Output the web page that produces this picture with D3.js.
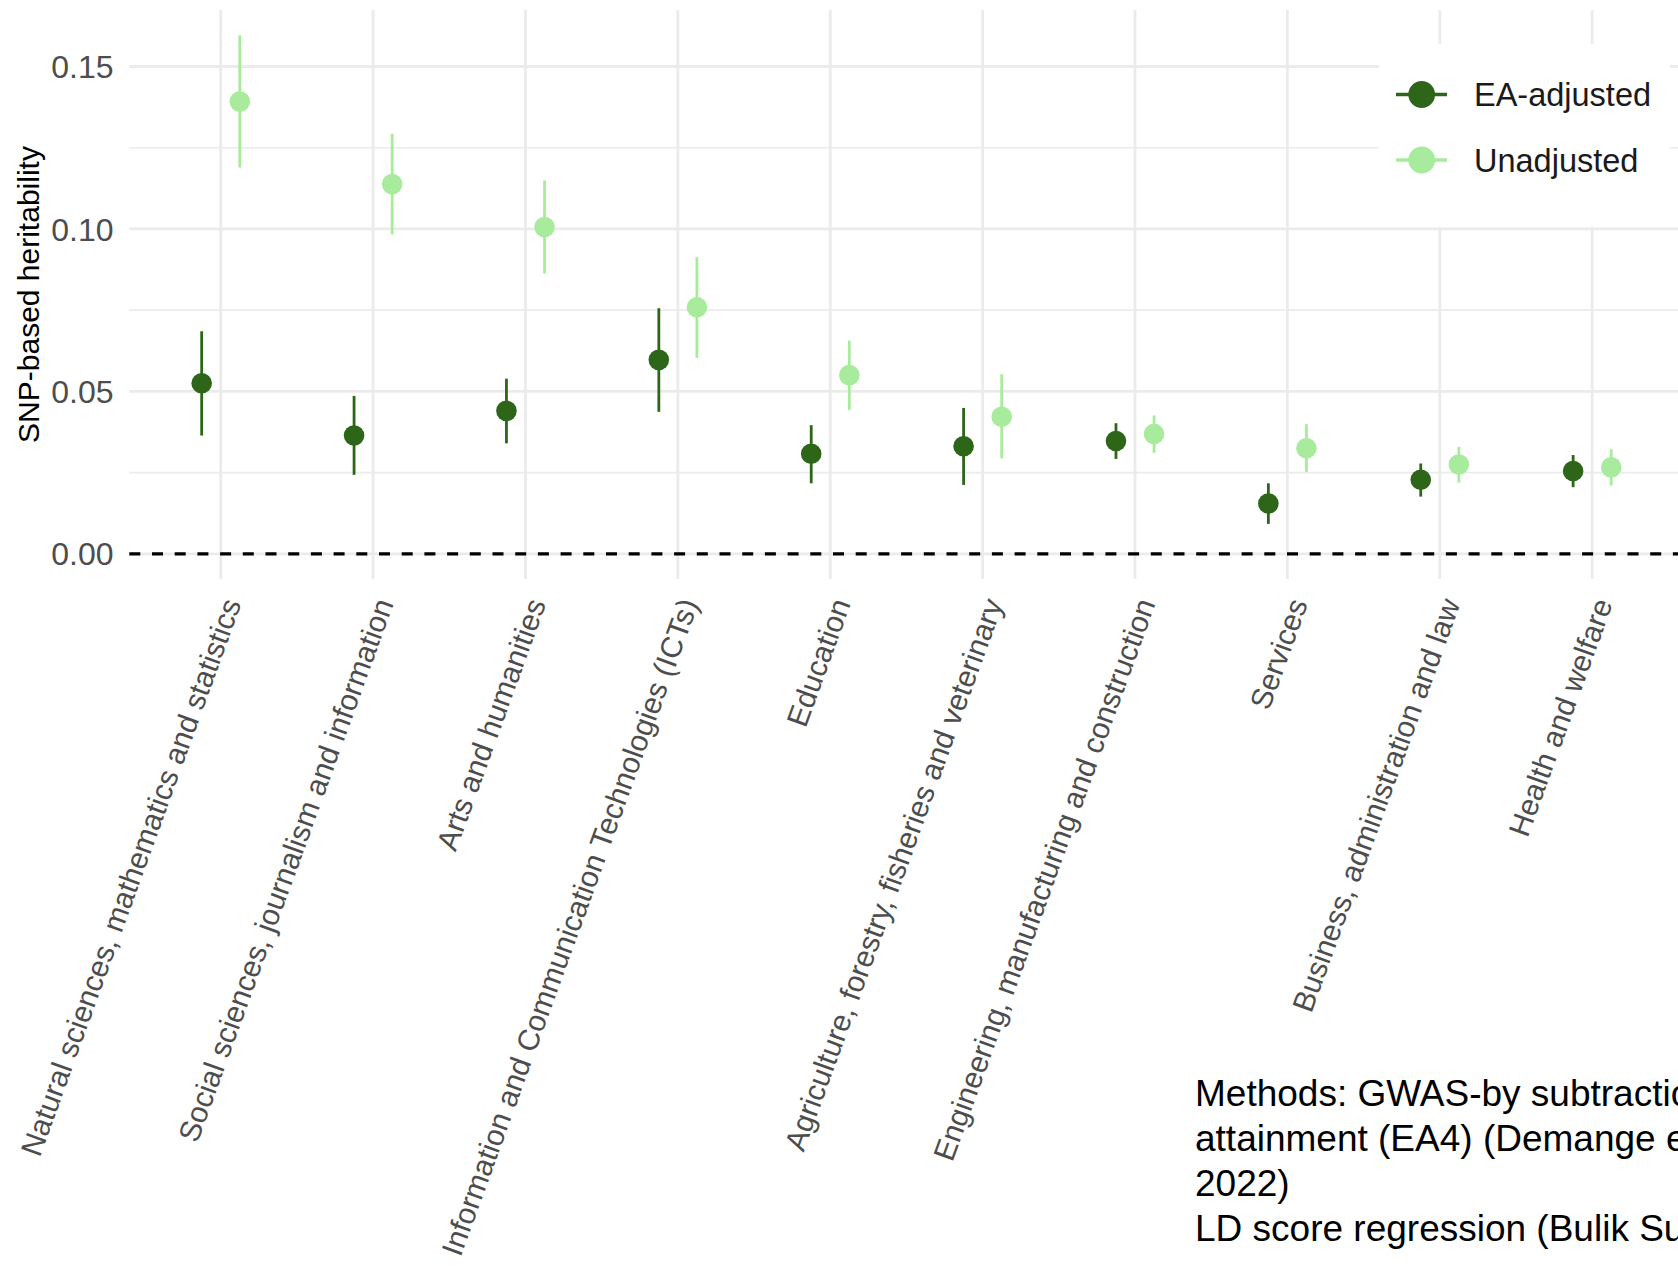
<!DOCTYPE html>
<html>
<head>
<meta charset="utf-8">
<script src="https://cdn.jsdelivr.net/npm/d3@7"></script>
<style>
  html, body { margin: 0; padding: 0; background: #ffffff; overflow: hidden; }
  svg { display: block; font-family: "Liberation Sans", Arial, Helvetica, sans-serif; }
</style>
</head>
<body>
<svg id="chart" width="1678" height="1266"></svg>
<script>
// Fields of study
const categories = [
  "Natural sciences, mathematics and statistics",
  "Social sciences, journalism and information",
  "Arts and humanities",
  "Information and Communication Technologies (ICTs)",
  "Education",
  "Agriculture, forestry, fisheries and veterinary",
  "Engineering, manufacturing and construction",
  "Services",
  "Business, administration and law",
  "Health and welfare"
];

// SNP-based heritability after adjusting for educational attainment
const eaAdjusted      = [0.0525, 0.0364, 0.0440, 0.0597, 0.0308, 0.0331, 0.0347, 0.0155, 0.0228, 0.0255];
const eaAdjustedLower = [0.0364, 0.0243, 0.0340, 0.0437, 0.0217, 0.0212, 0.0292, 0.0092, 0.0176, 0.0205];
const eaAdjustedUpper = [0.0685, 0.0486, 0.0539, 0.0756, 0.0396, 0.0449, 0.0402, 0.0217, 0.0278, 0.0304];

// SNP-based heritability without adjustment
const unadjusted      = [0.1392, 0.1138, 0.1006, 0.0759, 0.0550, 0.0422, 0.0369, 0.0325, 0.0275, 0.0266];
const unadjustedLower = [0.1189, 0.0983, 0.0863, 0.0603, 0.0443, 0.0294, 0.0311, 0.0252, 0.0219, 0.0210];
const unadjustedUpper = [0.1596, 0.1293, 0.1149, 0.0913, 0.0656, 0.0553, 0.0426, 0.0399, 0.0329, 0.0322];

const seriesNames = ["EA-adjusted", "Unadjusted"];
const seriesColors = ["#2d6619", "#a8eb9c"];

const yTicks = [0, 0.05, 0.10, 0.15];
const yMinorTicks = [0.025, 0.075, 0.125];

const noteLines = [
  "Methods: GWAS-by subtraction of educational",
  "attainment (EA4) (Demange et al. 2021; Okbay et al.",
  "2022)",
  "LD score regression (Bulik Sullivan et al. 2015)"
];

// ---- layout ----
const panel = { left: 129.3, right: 1683.6, top: 10, bottom: 579 };
const svg = d3.select("#chart");

const x = d3.scalePoint()
  .domain(categories)
  .range([panel.left, panel.right])
  .padding(0.6);

const yLo = -0.00776, yHi = 0.1674;
const y = d3.scaleLinear().domain([yLo, yHi]).range([panel.bottom, panel.top]);

const dodge = 0.125 * x.step();

const series = [
  { name: seriesNames[0], color: seriesColors[0], off: -dodge, est: eaAdjusted, lo: eaAdjustedLower, hi: eaAdjustedUpper },
  { name: seriesNames[1], color: seriesColors[1], off: dodge,  est: unadjusted, lo: unadjustedLower, hi: unadjustedUpper }
];

// ---- grid ----
const grid = svg.append("g");
grid.selectAll("line.minor").data(yMinorTicks).join("line")
  .attr("x1", panel.left).attr("x2", 1678)
  .attr("y1", d => y(d)).attr("y2", d => y(d))
  .attr("stroke", "#ebebeb").attr("stroke-width", 1.6);
grid.selectAll("line.major").data(yTicks).join("line")
  .attr("x1", panel.left).attr("x2", 1678)
  .attr("y1", d => y(d)).attr("y2", d => y(d))
  .attr("stroke", "#ebebeb").attr("stroke-width", 2.8);
grid.selectAll("line.vert").data(categories).join("line")
  .attr("x1", d => x(d)).attr("x2", d => x(d))
  .attr("y1", panel.top).attr("y2", panel.bottom)
  .attr("stroke", "#ebebeb").attr("stroke-width", 2.8);

// ---- y axis ----
const yAxis = d3.axisLeft(y).tickValues(yTicks).tickFormat(d3.format(".2f")).tickSize(0).tickPadding(0);
const yg = svg.append("g").attr("transform", `translate(${panel.left - 15.8},0)`).call(yAxis);
yg.select(".domain").remove();
yg.selectAll("text")
  .attr("fill", "#4d4d4d")
  .attr("font-size", 32)
  .attr("font-family", "Liberation Sans, Arial, sans-serif")
  .attr("dy", "0.35em");

svg.append("text")
  .attr("transform", `translate(39,${(panel.top + panel.bottom) / 2}) rotate(-90)`)
  .attr("text-anchor", "middle")
  .attr("font-size", 30)
  .attr("fill", "#000")
  .text("SNP-based heritability");

// ---- x axis labels ----
const xAxis = d3.axisBottom(x).tickSize(0).tickPadding(0);
const xg = svg.append("g").attr("transform", `translate(0,${panel.bottom + 17})`).call(xAxis);
xg.select(".domain").remove();
xg.selectAll("text")
  .attr("fill", "#4d4d4d")
  .attr("font-size", 30)
  .attr("font-family", "Liberation Sans, Arial, sans-serif")
  .attr("text-anchor", "end")
  .attr("y", 0)
  .attr("dy", "0.72em")
  .attr("transform", "rotate(-70)");

// ---- zero reference line ----
svg.append("line")
  .attr("x1", panel.left).attr("x2", 1678)
  .attr("y1", y(0)).attr("y2", y(0))
  .attr("stroke", "#000").attr("stroke-width", 3.2)
  .attr("stroke-dasharray", "11 11.7");

// ---- point ranges ----
series.forEach(s => {
  const g = svg.append("g");
  g.selectAll("line").data(categories).join("line")
    .attr("x1", (d) => x(d) + s.off).attr("x2", (d) => x(d) + s.off)
    .attr("y1", (d, i) => y(s.lo[i])).attr("y2", (d, i) => y(s.hi[i]))
    .attr("stroke", s.color).attr("stroke-width", 2.8);
  g.selectAll("circle").data(categories).join("circle")
    .attr("cx", (d) => x(d) + s.off)
    .attr("cy", (d, i) => y(s.est[i]))
    .attr("r", 10.3)
    .attr("fill", s.color);
});

// ---- legend ----
const legend = svg.append("g");
legend.append("rect")
  .attr("x", 1379).attr("y", 44).attr("width", 291).attr("height", 183)
  .attr("fill", "#ffffff");
const keyY = [94.5, 160];
series.forEach((s, i) => {
  legend.append("line")
    .attr("x1", 1396).attr("x2", 1447)
    .attr("y1", keyY[i]).attr("y2", keyY[i])
    .attr("stroke", s.color).attr("stroke-width", 3.3);
  legend.append("circle")
    .attr("cx", 1421.7).attr("cy", keyY[i]).attr("r", 13.4)
    .attr("fill", s.color);
  legend.append("text")
    .attr("x", 1474).attr("y", keyY[i] + 11.8)
    .attr("font-size", 32.5)
    .attr("fill", "#1a1a1a")
    .text(s.name);
});

// ---- methods note ----
const note = svg.append("text")
  .attr("x", 1195).attr("y", 1106)
  .attr("font-size", 37)
  .attr("fill", "#000");
note.selectAll("tspan").data(noteLines).join("tspan")
  .attr("x", 1195)
  .attr("dy", (d, i) => i === 0 ? 0 : 45)
  .text(d => d);
</script>
</body>
</html>
